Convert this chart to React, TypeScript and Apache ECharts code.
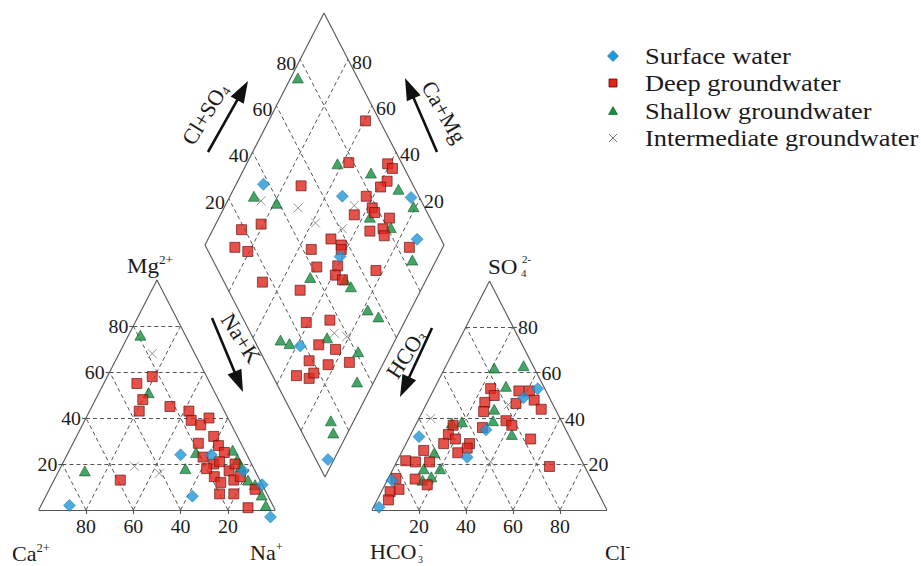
import React, { useEffect, useRef } from 'react';
import * as echarts from 'echarts';

// ---------- data ----------
const gridSteps = [20, 40, 60, 80];

// cation triangle: [Na+K %, Mg %]
const cationSurface = [[12, 2], [48, 24], [61, 24], [62, 6], [78, 17], [89, 11], [99.5, -3]];
const cationDeep = [[19, 58], [14, 55], [20, 48], [21, 43], [33, 45], [42, 43], [45, 39], [50, 37], [52, 40], [58, 32], [53, 29], [62, 28], [58, 23], [64, 20], [66, 25], [66, 21], [72, 17], [67, 14.5], [71, 12], [76, 13], [78, 14.5], [73, 7], [79, 7], [88, 1], [28, 13], [87, 9], [73, 20], [62, 18]];
const cationShallow = [[5, 76], [21, 51], [11, 17], [54, 25], [53, 18], [69, 26], [73, 22], [76, 19], [82, 13], [86, 11], [91, 6.5], [95, 2]];
const cationInter = [[14, 68], [31, 19], [43, 16]];

// anion triangle: [Cl %, SO4 %]
const anionSurface = [[2.4, 1.2], [2, 13], [4, 32], [29, 23], [31, 35], [40, 49], [44, 53]];
const anionDeep = [[24, 53], [27, 50], [24.5, 47], [26, 43], [29, 36], [37.5, 39], [41, 37], [38, 46.5], [36.5, 52], [41, 52], [45, 48], [50, 44], [52, 31], [66, 19], [16, 37], [16, 33], [20, 31], [16, 29], [27, 29], [27, 27], [24, 25], [9, 26], [3.6, 21.5], [8, 21], [14, 21], [11.6, 13.5], [18, 11], [3.3, 13.8], [7, 9], [3.7, 8], [4.8, 4.4]];
const anionShallow = [[21, 62], [33, 63], [30, 54], [30, 44], [32, 39], [43, 33], [15, 38], [19, 38.5], [14, 25], [20, 18], [13, 18], [15, 13], [18, 14.5]];
const anionInter = [[5, 40], [40, 21], [35, 46]];

// diamond: [Cl+SO4 %, Ca+Mg %]
const diamondSurface = [[37.6, 88.6], [68, 53], [96.5, 24], [90, 12.5], [54, 41], [18, 38.5], [5, 2.5]];
const diamondDeep = [[94, 59.5], [78, 57.5], [94, 41], [95, 38], [90, 37.5], [86, 39], [53, 72.5], [78, 43], [78, 38], [78, 36], [69, 44], [83, 28.6], [72, 34], [78, 29], [77, 27], [28, 81], [18.6, 88], [12, 87], [16.5, 80.7], [43.5, 54.6], [54, 48.6], [57, 43], [56, 42], [85, 14], [42, 48.5], [51, 40], [48, 39], [50, 35], [66, 23], [16, 68], [30, 50.5], [25.6, 41], [36, 31.6], [26, 31], [32, 23], [18.5, 31.6], [25.6, 22.8], [35, 14.4], [10, 33.7], [14.7, 27.8], [17.8, 27]];
const diamondShallow = [[75, 97], [73, 62], [85, 46], [93, 31], [31, 90], [39, 79], [75, 37], [81.5, 26], [95.5, 21], [83.5, 10], [37, 49], [51, 34], [52, 30], [54, 18], [57, 12], [11, 48], [14, 43.5], [31, 29], [41, 13], [34, 7], [14.6, 9.6], [13, 6]];
const diamondInter = [[33, 86], [47, 69], [51, 58.5], [61, 46], [71, 46], [35, 27], [39.5, 21]];

const seriesNames = ['Surface water', 'Deep groundwater', 'Shallow groundwater', 'Intermediate groundwater'];

// ---------- layout ----------
const W = 921;
const H = 566;
const CAT = { x0: 38.7, y0: 510, w: 236.5, h: 230 };
const ANI = { x0: 372, y0: 510, w: 235, h: 229 };
const DIA = { bx: 325, by: 477, rx: 119, ry: -232, lx: -120, ly: -232 };
const FONT = 'Liberation Serif, Times New Roman, serif';
const TXT = '#1a1a1a';

const tri = (T: any, r: number, t: number) => [T.x0 + ((r + t / 2) / 100) * T.w, T.y0 - (t / 100) * T.h];
const dia = (a: number, c: number) => [DIA.bx + (a / 100) * DIA.rx + (c / 100) * DIA.lx, DIA.by + (a / 100) * DIA.ry + (c / 100) * DIA.ly];

function project(cat: number[][], an: number[][], dm: number[][]) {
  return [
    ...cat.map((p) => tri(CAT, p[0], p[1])),
    ...an.map((p) => tri(ANI, p[0], p[1])),
    ...dm.map((p) => dia(p[0], p[1])),
  ];
}

function buildSegments() {
  const solid: number[][][] = [];
  const dashed: number[][][] = [];
  [CAT, ANI].forEach((T) => {
    solid.push([tri(T, 0, 0), tri(T, 100, 0)], [tri(T, 100, 0), tri(T, 0, 100)], [tri(T, 0, 100), tri(T, 0, 0)]);
    gridSteps.forEach((v) => {
      dashed.push([tri(T, 0, v), tri(T, 100 - v, v)]);
      dashed.push([tri(T, v, 0), tri(T, v, 100 - v)]);
      dashed.push([tri(T, 100 - v, 0), tri(T, 0, 100 - v)]);
      const b = tri(T, v, 0);
      solid.push([b, [b[0], b[1] + 4]]);
    });
  });
  gridSteps.forEach((v) => {
    const l = tri(CAT, 0, v);
    solid.push([l, [l[0] - 4, l[1]]]);
    const r = tri(ANI, 100 - v, v);
    solid.push([r, [r[0] + 4, r[1]]]);
  });
  solid.push([dia(0, 0), dia(100, 0)], [dia(100, 0), dia(100, 100)], [dia(100, 100), dia(0, 100)], [dia(0, 100), dia(0, 0)]);
  gridSteps.forEach((v) => {
    dashed.push([dia(v, 0), dia(v, 100)]);
    dashed.push([dia(0, v), dia(100, v)]);
  });
  return { solid, dashed };
}

function txt(x: number, y: number, text: string, o: any = {}) {
  return {
    type: 'text',
    x,
    y,
    rotation: ((o.rot || 0) * Math.PI) / 180,
    scaleX: o.sx || 1,
    z: 100,
    silent: true,
    style: {
      text,
      fill: TXT,
      fontSize: o.fs || 18,
      fontFamily: FONT,
      align: o.align || 'center',
      verticalAlign: o.va || 'middle',
      textAlign: o.align || 'center',
      textVerticalAlign: o.va || 'middle',
      rich: o.rich,
    },
  };
}

function arrow(tail: number[], tip: number[]) {
  const dx = tip[0] - tail[0];
  const dy = tip[1] - tail[1];
  const len = Math.hypot(dx, dy);
  const ux = dx / len, uy = dy / len;
  const nx = -uy, ny = ux;
  const hw = 1.3, hl = 22, hh = 7.5;
  const bx = tip[0] - ux * hl, by = tip[1] - uy * hl;
  const pts = [
    [tail[0] + nx * hw, tail[1] + ny * hw],
    [bx + nx * hw, by + ny * hw],
    [bx + nx * hh, by + ny * hh],
    tip,
    [bx - nx * hh, by - ny * hh],
    [bx - nx * hw, by - ny * hw],
    [tail[0] - nx * hw, tail[1] - ny * hw],
  ];
  return { type: 'polygon', z: 100, silent: true, shape: { points: pts }, style: { fill: '#111' } };
}

const supRich = (fs: number) => ({
  a: { fontSize: fs, fontFamily: FONT, fill: TXT, lineHeight: fs + 2 },
  s: { fontSize: Math.round(fs * 0.55), fontFamily: FONT, fill: TXT, verticalAlign: 'top', lineHeight: fs + 2 },
  b: { fontSize: Math.round(fs * 0.6), fontFamily: FONT, fill: TXT, verticalAlign: 'bottom', lineHeight: fs + 2 },
});

function buildGraphic() {
  const g: any[] = [];
  const tk = { fs: 18, sx: 1.1 };
  gridSteps.forEach((v) => {
    const b = tri(CAT, v, 0);
    g.push(txt(b[0], 527, String(100 - v), tk));
    const l = tri(CAT, 0, v);
    g.push(txt(l[0] - 5, l[1] + 1, String(v), { ...tk, align: 'right' }));
    const ab = tri(ANI, v, 0);
    g.push(txt(ab[0], 527, String(v), tk));
    const ar = tri(ANI, 100 - v, v);
    g.push(txt(ar[0] + 5, ar[1] + 1, String(v), { ...tk, align: 'left' }));
    const dl = dia(v, 100);
    g.push(txt(dl[0] - 4, dl[1] + 4, String(v), { ...tk, align: 'right' }));
    const dr = dia(100, v);
    g.push(txt(dr[0] + 4, dr[1] + 3, String(v), { ...tk, align: 'left' }));
  });

  // corner labels
  g.push(txt(150, 266, '{a|Mg}{s|2+}', { rich: supRich(21), sx: 1.1 }));
  g.push(txt(12, 554, '{a|Ca}{s|2+}', { align: 'left', rich: supRich(21), sx: 1.05 }));
  g.push(txt(250, 553, '{a|Na}{s|+}', { align: 'left', rich: supRich(21), sx: 1.05 }));
  g.push(txt(605, 553, '{a|Cl}{s|-}', { align: 'left', rich: supRich(21), sx: 1.05 }));
  // SO4 2-
  g.push(txt(488, 267, 'SO', { align: 'left', fs: 21, sx: 1.1 }));
  g.push(txt(521, 273, '4', { align: 'left', fs: 11 }));
  g.push(txt(522, 259, '2-', { align: 'left', fs: 11 }));
  // HCO3-
  g.push(txt(370, 552, 'HCO', { align: 'left', fs: 21, sx: 1.05 }));
  g.push(txt(418, 559, '3', { align: 'left', fs: 10 }));
  g.push(txt(419, 544, '-', { align: 'left', fs: 11 }));

  // arrows and their labels
  g.push(arrow([208, 152], [248, 81]));
  g.push(arrow([437, 152], [405, 78]));
  g.push(arrow([212, 318], [243, 392]));
  g.push(arrow([432, 328], [400, 397]));
  g.push(txt(205, 114, '{a|Cl+SO}{b|4}', { rot: 58, rich: supRich(22) }));
  g.push(txt(444, 112, '{a|Ca+Mg}', { rot: -60, rich: supRich(22) }));
  g.push(txt(241, 338, '{a|Na+K}', { rot: -57, rich: supRich(22) }));
  g.push(txt(406, 354, '{a|HCO}{b|3}', { rot: 57, rich: supRich(22) }));

  // legend
  const lx = 613;
  const ly = [56, 83, 111, 138];
  g.push({ type: 'polygon', z: 100, shape: { points: [[lx, ly[0] - 5.5], [lx + 5.5, ly[0]], [lx, ly[0] + 5.5], [lx - 5.5, ly[0]]] }, style: { fill: '#1f97d8', stroke: '#13679a', lineWidth: 0.6 } });
  g.push({ type: 'rect', z: 100, shape: { x: lx - 4, y: ly[1] - 4, width: 8, height: 8 }, style: { fill: '#e0251b', stroke: '#5a0d0d', lineWidth: 0.8 } });
  g.push({ type: 'polygon', z: 100, shape: { points: [[lx, ly[2] - 4.5], [lx + 4.5, ly[2] + 3.5], [lx - 4.5, ly[2] + 3.5]] }, style: { fill: '#149040', stroke: '#0b4d20', lineWidth: 0.6 } });
  g.push({ type: 'line', z: 100, shape: { x1: lx - 4, y1: ly[3] - 4, x2: lx + 4, y2: ly[3] + 4 }, style: { stroke: '#777', lineWidth: 1 } });
  g.push({ type: 'line', z: 100, shape: { x1: lx + 4, y1: ly[3] - 4, x2: lx - 4, y2: ly[3] + 4 }, style: { stroke: '#777', lineWidth: 1 } });
  seriesNames.forEach((n, i) => g.push(txt(645, ly[i], n, { align: 'left', fs: 24, sx: 1.1 })));
  return g;
}

export default function App() {
  const ref = useRef<HTMLDivElement>(null);
  useEffect(() => {
    if (!ref.current) return;
    const chart = echarts.init(ref.current, undefined, { renderer: 'svg' });
    const { solid, dashed } = buildSegments();
    const sym = { silent: true, z: 10 };
    chart.setOption({
      animation: false,
      backgroundColor: '#ffffff',
      grid: { left: 0, right: 0, top: 0, bottom: 0 },
      xAxis: { type: 'value', min: 0, max: W, show: false },
      yAxis: { type: 'value', min: 0, max: H, inverse: true, show: false },
      series: [
        {
          type: 'lines', coordinateSystem: 'cartesian2d', polyline: false, silent: true, z: 1,
          lineStyle: { color: '#555', width: 1, type: [4, 3], opacity: 1 },
          data: dashed.map((s) => ({ coords: s })),
        },
        {
          type: 'lines', coordinateSystem: 'cartesian2d', polyline: false, silent: true, z: 2,
          lineStyle: { color: '#555', width: 1.1, type: 'solid', opacity: 1 },
          data: solid.map((s) => ({ coords: s })),
        },
        {
          ...sym, name: seriesNames[3], type: 'scatter', symbol: 'path://M0,0L10,10M10,0L0,10', symbolSize: 9,
          itemStyle: { color: 'none', borderColor: '#7a7a7a', borderWidth: 1 },
          data: project(cationInter, anionInter, diamondInter),
        },
        {
          ...sym, name: seriesNames[2], type: 'scatter', symbol: 'triangle', symbolSize: [11, 10],
          itemStyle: { color: '#149040', borderColor: '#0b4d20', borderWidth: 0.7 },
          data: project(cationShallow, anionShallow, diamondShallow),
        },
        {
          ...sym, name: seriesNames[1], type: 'scatter', symbol: 'rect', symbolSize: 10,
          itemStyle: { color: '#e0251b', borderColor: '#5a0d0d', borderWidth: 0.8 },
          data: project(cationDeep, anionDeep, diamondDeep),
        },
        {
          ...sym, name: seriesNames[0], type: 'scatter', symbol: 'diamond', symbolSize: 12,
          itemStyle: { color: '#1f97d8', borderColor: '#13679a', borderWidth: 0.6 },
          data: project(cationSurface, anionSurface, diamondSurface),
        },
      ],
      graphic: buildGraphic(),
    });
    return () => chart.dispose();
  }, []);
  return <div ref={ref} style={{ position: 'absolute', left: 0, top: 0, width: W, height: H, background: '#fff' }} />;
}
